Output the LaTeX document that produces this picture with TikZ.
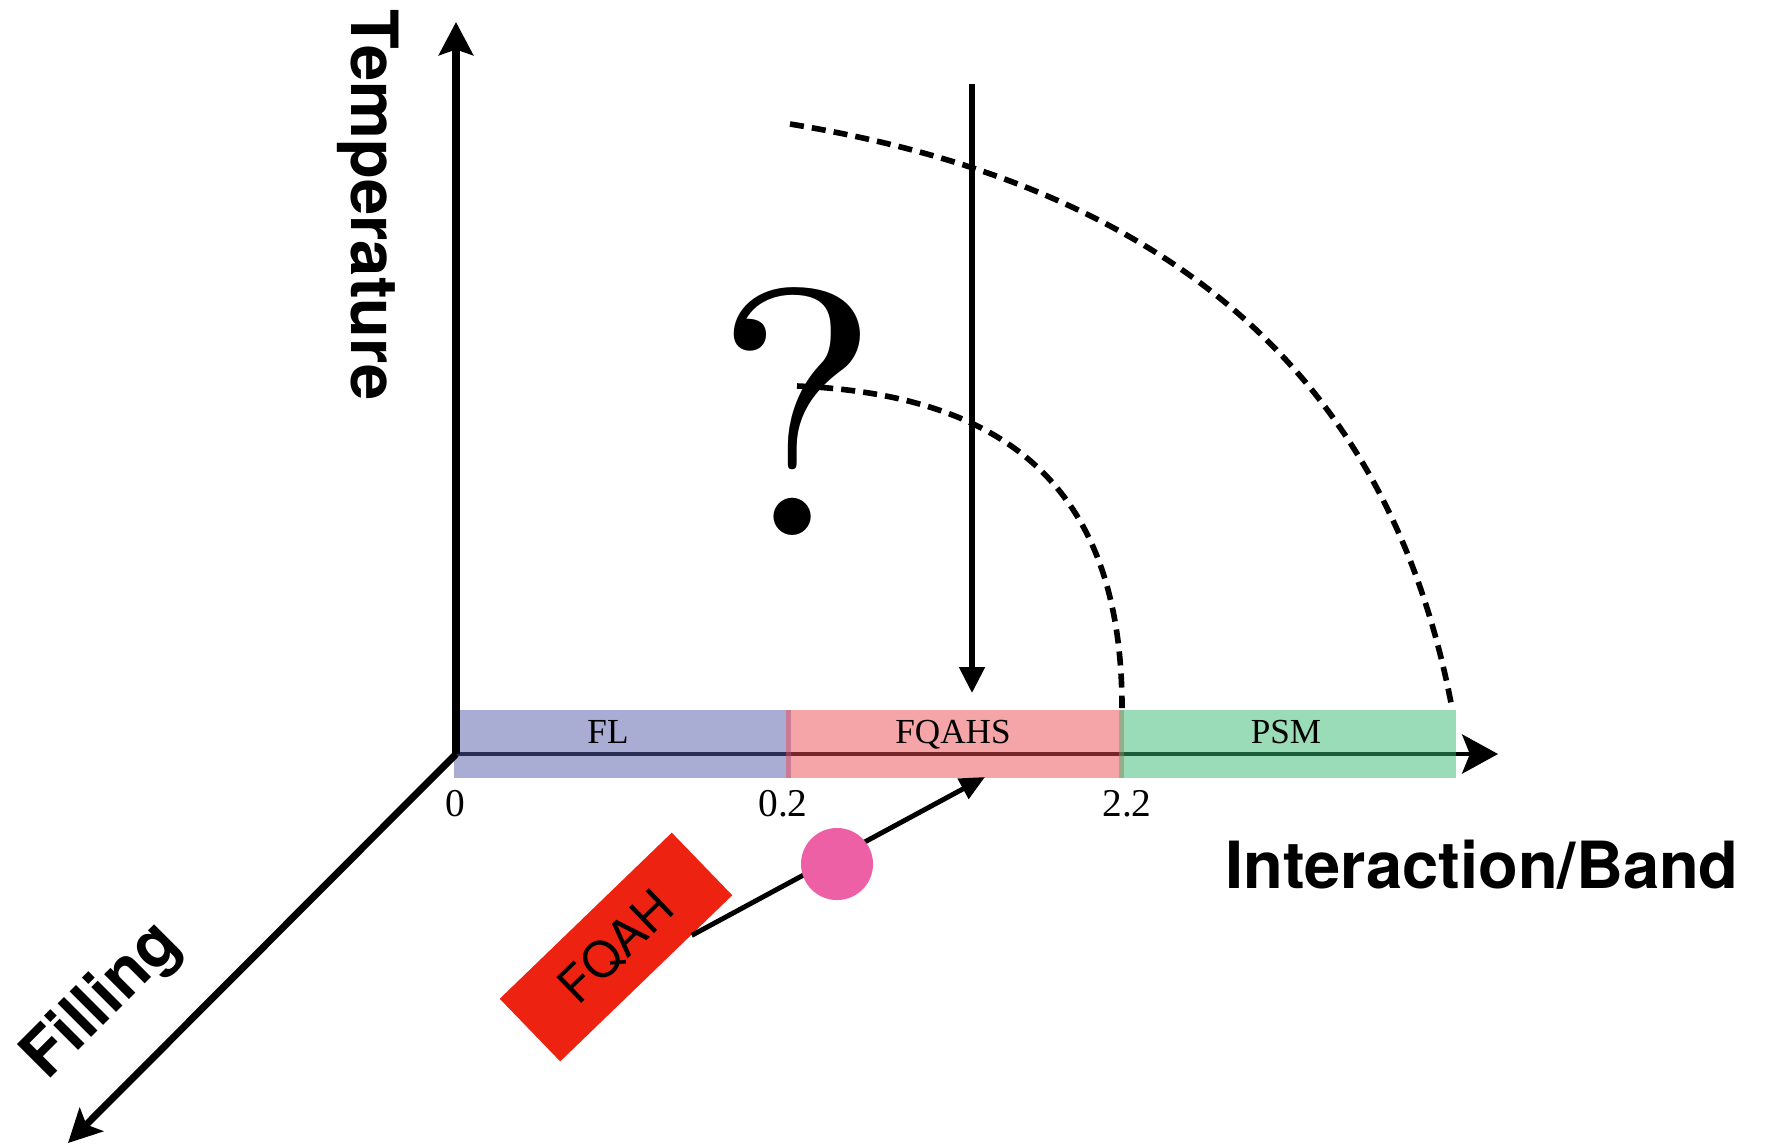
\documentclass[tikz,border=0pt]{standalone}
\usepackage{fontspec}
\newfontfamily\tnr{Liberation Serif}
\newfontfamily\heros{TeX Gyre Heros}
\newfontfamily\lmten[Extension=.otf]{lmroman10-regular}
\usetikzlibrary{arrows.meta,calc}

\definecolor{flc}{RGB}{85,91,169}
\definecolor{fqc}{RGB}{237,75,81}
\definecolor{psc}{RGB}{55,185,115}
\definecolor{boxred}{RGB}{238,34,17}
\definecolor{dotpink}{RGB}{238,96,166}

\begin{document}
\begin{tikzpicture}[x=0.01cm,y=-0.01cm,
  thickaxis/.style={line width=2pt},
  band/.style={draw=none, fill opacity=0.5, minimum height=0.684cm, inner sep=0pt, anchor=north west},
  bandlabel/.style={font=\tnr\fontsize{10}{12}\selectfont, anchor=base, inner sep=0pt},
  ticklabel/.style={font=\tnr\fontsize{11.2}{13}\selectfont, anchor=base, inner sep=0pt},
  axislabel/.style={font=\heros\bfseries\fontsize{18.5}{22}\selectfont, anchor=base, inner sep=0pt},
  boundary/.style={line width=1.6pt, dash pattern=on 4pt off 2.3pt},
]
\useasboundingbox[fill=white] (0,0) rectangle (1767,1147);

% key points
\coordinate (origin) at (456,754);
\coordinate (ttip) at (456,22);
\coordinate (itip) at (1498,754);
\coordinate (ftip) at (68,1143);
\coordinate (dtop) at (972,84);
\coordinate (dend) at (972,693);
\coordinate (hit) at (985,777);
\coordinate (innerA) at (797,386);
\coordinate (innerB) at (1122,708);
\coordinate (outerA) at (790,124);
\coordinate (outerB) at (1452,708);

% interaction axis (seen through the phase band)
\draw[line width=1.4pt, -{Stealth[length=10.2pt,width=11.1pt,inset=2.2pt]}] (origin) -- (itip);

% phase band along the interaction axis
\node[band, fill=flc, minimum width=3.37cm] (fl) at (453,709) {};
\node[band, fill=fqc, minimum width=3.38cm] (fqahs) at (785,709) {};
\node[band, fill=psc, minimum width=3.37cm] (psm) at (1118,709) {};
\node[bandlabel] (fllab) at (608,743) {FL};
\node[bandlabel] (fqahslab) at (953,743) {FQAHS};
\node[bandlabel] (psmlab) at (1286,743) {PSM};

% temperature and filling axes
\draw[thickaxis, -{Stealth[length=9.4pt,width=9.7pt,inset=1.6pt]}] (origin) -- (ttip);
\draw[thickaxis, -{Stealth[length=9.4pt,width=9.4pt,inset=2pt]}] (origin) -- (ftip);

% tick values
\node[ticklabel] (t0) at (455,816) {0};
\node[ticklabel] (t02) at (783,816) {0.2};
\node[ticklabel] (t22) at (1127,816) {2.2};

% axis titles
\node[axislabel, rotate=-90] (templab) at (351,205) {Temperature};
\node[axislabel] (intlab) at (1482,888) {Interaction/Band};
\node[axislabel, rotate=45] (filllab) at (115,1014) {Filling};

% phase boundaries
\draw[boundary] (innerA) .. controls (1012,395) and (1122,493) .. (innerB);
\draw[boundary] (outerA) .. controls (1155,184) and (1387,364) .. (outerB);

% question mark
\node[font=\lmten\fontsize{100}{110}\selectfont, anchor=base, inner sep=0pt] (qmark) at (797,535) {?};

% cooling arrow
\draw[line width=1.5pt, -{Triangle[length=7.4pt,width=7.1pt]}] (dtop) -- (dend);

% FQAH state and its path to the band
\node[fill=boxred, rotate=44, minimum width=2.39cm, minimum height=0.87cm, inner sep=0pt,
      font=\heros\fontsize{14}{16}\selectfont] (fqah) at (616,947) {FQAH};
\draw[line width=1.4pt, -{Triangle[length=7.1pt,width=6.3pt]}]
  ($(fqah.south west)!0.76!(fqah.south east)$) -- (hit);
\node[circle, fill=dotpink, minimum size=0.72cm, inner sep=0pt] (dot) at (837,864) {};
\end{tikzpicture}
\end{document}
